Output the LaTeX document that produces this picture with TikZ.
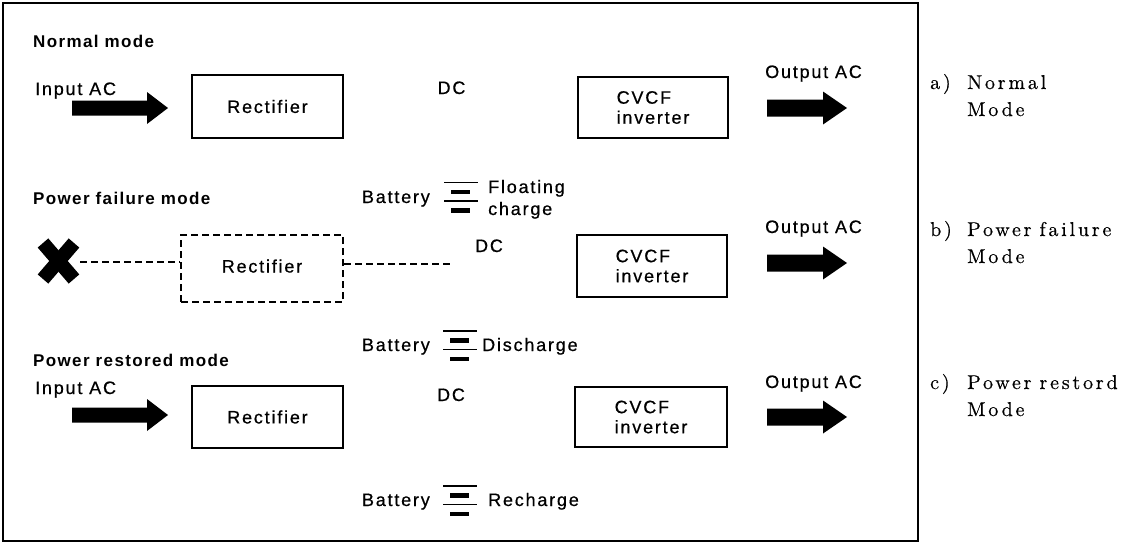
\documentclass[tikz,border=0pt]{standalone}
\usepackage{fontspec}
\newfontfamily\labfont{Liberation Sans}[LetterSpace=10,FakeBold=0.6]
\newfontfamily\headfont{Liberation Sans}[LetterSpace=8]
\newfontfamily\capfont{lmroman10-regular}[Extension=.otf,LetterSpace=14,FakeBold=0.4]
\begin{document}
\begin{tikzpicture}[x=1pt,y=-1pt,
  lab/.style={inner sep=0, font=\labfont\fontsize{18}{21}\selectfont},
  head/.style={inner sep=0, font=\headfont\bfseries\fontsize{17}{20}\selectfont},
  captxt/.style={inner sep=0, font=\capfont\fontsize{20}{24}\selectfont},
  blockbox/.style={draw, line width=2.4pt, inner sep=0, align=left,
    font=\labfont\fontsize{18}{20}\selectfont},
  dashbox/.style={blockbox, dash pattern=on 7pt off 4pt},
  dashline/.style={line width=1.8pt, dash pattern=on 7pt off 4pt},
  pics/inarrow/.style={code={
    \fill (0,-7.5) -- (75,-7.5) -- (75,-16) -- (96,0) -- (75,16) -- (75,7.5) -- (0,7.5) -- cycle;}},
  pics/outarrow/.style={code={
    \fill (0,-8.5) -- (56,-8.5) -- (56,-16.5) -- (80,0) -- (56,16.5) -- (56,8.5) -- (0,8.5) -- cycle;}},
  pics/battery/.style={code={
    \draw[line width=1.6pt] (0,-14) -- (34,-14);
    \draw[line width=4.2pt] (7,-4.5) -- (26,-4.5);
    \draw[line width=1.6pt] (0,4.5) -- (34,4.5);
    \draw[line width=4.2pt] (7,14) -- (26,14);}}
]
\useasboundingbox (0,0) rectangle (1134,549);
\fill[white] (0,0) rectangle (1134,549);
% frame
\draw[line width=1.3pt] (3,3) rectangle (918,541);

% ---------- a) Normal mode ----------
\node[head, anchor=base west] (hA) at (33,47) {Normal mode};
\node[lab, anchor=base west] (inA) at (35,95) {Input AC};
\pic at (72,108) {inarrow};
\node[blockbox, minimum width=151, minimum height=63] (recA) at (267.5,106.5) {Rectifier};
\node[lab, anchor=base] (dcA) at (451.5,94) {DC};
\node[blockbox, minimum width=150, minimum height=61] (invA) at (653,107.5) {CVCF\\inverter};
\node[lab, anchor=base west] (outA) at (765,78) {Output AC};
\pic at (767,108) {outarrow};

% ---------- b) Power failure mode ----------
\node[head, anchor=base west] (hB) at (33,204) {Power failure mode};
\node[lab, anchor=base east] (batB) at (430,203) {Battery};
\pic at (444,196.5) {battery};
\node[lab, anchor=base west] (flB) at (488,193) {Floating};
\node[lab, anchor=base west] (chB) at (488,215) {charge};
\draw[line width=14pt] (43,243) -- (74,279);
\draw[line width=14pt] (43,279) -- (74,243);
\coordinate (xm) at (80,262);
\node[dashbox, minimum width=162, minimum height=67] (recB) at (262,268.5) {\raisebox{5pt}{Rectifier}};
\coordinate (dcend) at (450,264);
\draw[dashline] (xm) -- (xm -| recB.west);
\draw[dashline] (recB.east |- dcend) -- (dcend);
\node[lab, anchor=base] (dcB) at (489,252) {DC};
\node[blockbox, minimum width=150, minimum height=62] (invB) at (652,266) {CVCF\\inverter};
\node[lab, anchor=base west] (outB) at (765,233) {Output AC};
\pic at (767,263) {outarrow};
\node[lab, anchor=base east] (batC1) at (430,351) {Battery};
\pic at (443,345) {battery};
\node[lab, anchor=base west] (disB) at (482,351) {Discharge};

% ---------- c) Power restored mode ----------
\node[head, anchor=base west] (hC) at (33,366) {Power restored mode};
\node[lab, anchor=base west] (inC) at (35,394) {Input AC};
\pic at (72,415) {inarrow};
\node[blockbox, minimum width=151, minimum height=62] (recC) at (267.5,417) {Rectifier};
\node[lab, anchor=base] (dcC) at (451,401) {DC};
\node[blockbox, minimum width=152, minimum height=60] (invC) at (651,417) {CVCF\\inverter};
\node[lab, anchor=base west] (outC) at (765,388) {Output AC};
\pic at (767,417) {outarrow};
\node[lab, anchor=base east] (batC) at (430,506) {Battery};
\pic at (443,500) {battery};
\node[lab, anchor=base west] (reC) at (488,506) {Recharge};

% ---------- captions ----------
\node[captxt, anchor=base west] (ca1) at (930,89) {a)};
\node[captxt, anchor=base west] (ca2) at (967,89) {Normal};
\node[captxt, anchor=base west] (ca3) at (967,116) {Mode};
\node[captxt, anchor=base west] (cb1) at (930,236) {b)};
\node[captxt, anchor=base west] (cb2) at (967,236) {Power\hspace{8pt}failure};
\node[captxt, anchor=base west] (cb3) at (967,263) {Mode};
\node[captxt, anchor=base west] (cc1) at (930,389) {c)};
\node[captxt, anchor=base west] (cc2) at (967,389) {Power\hspace{8pt}restord};
\node[captxt, anchor=base west] (cc3) at (967,416) {Mode};
\end{tikzpicture}
\end{document}
